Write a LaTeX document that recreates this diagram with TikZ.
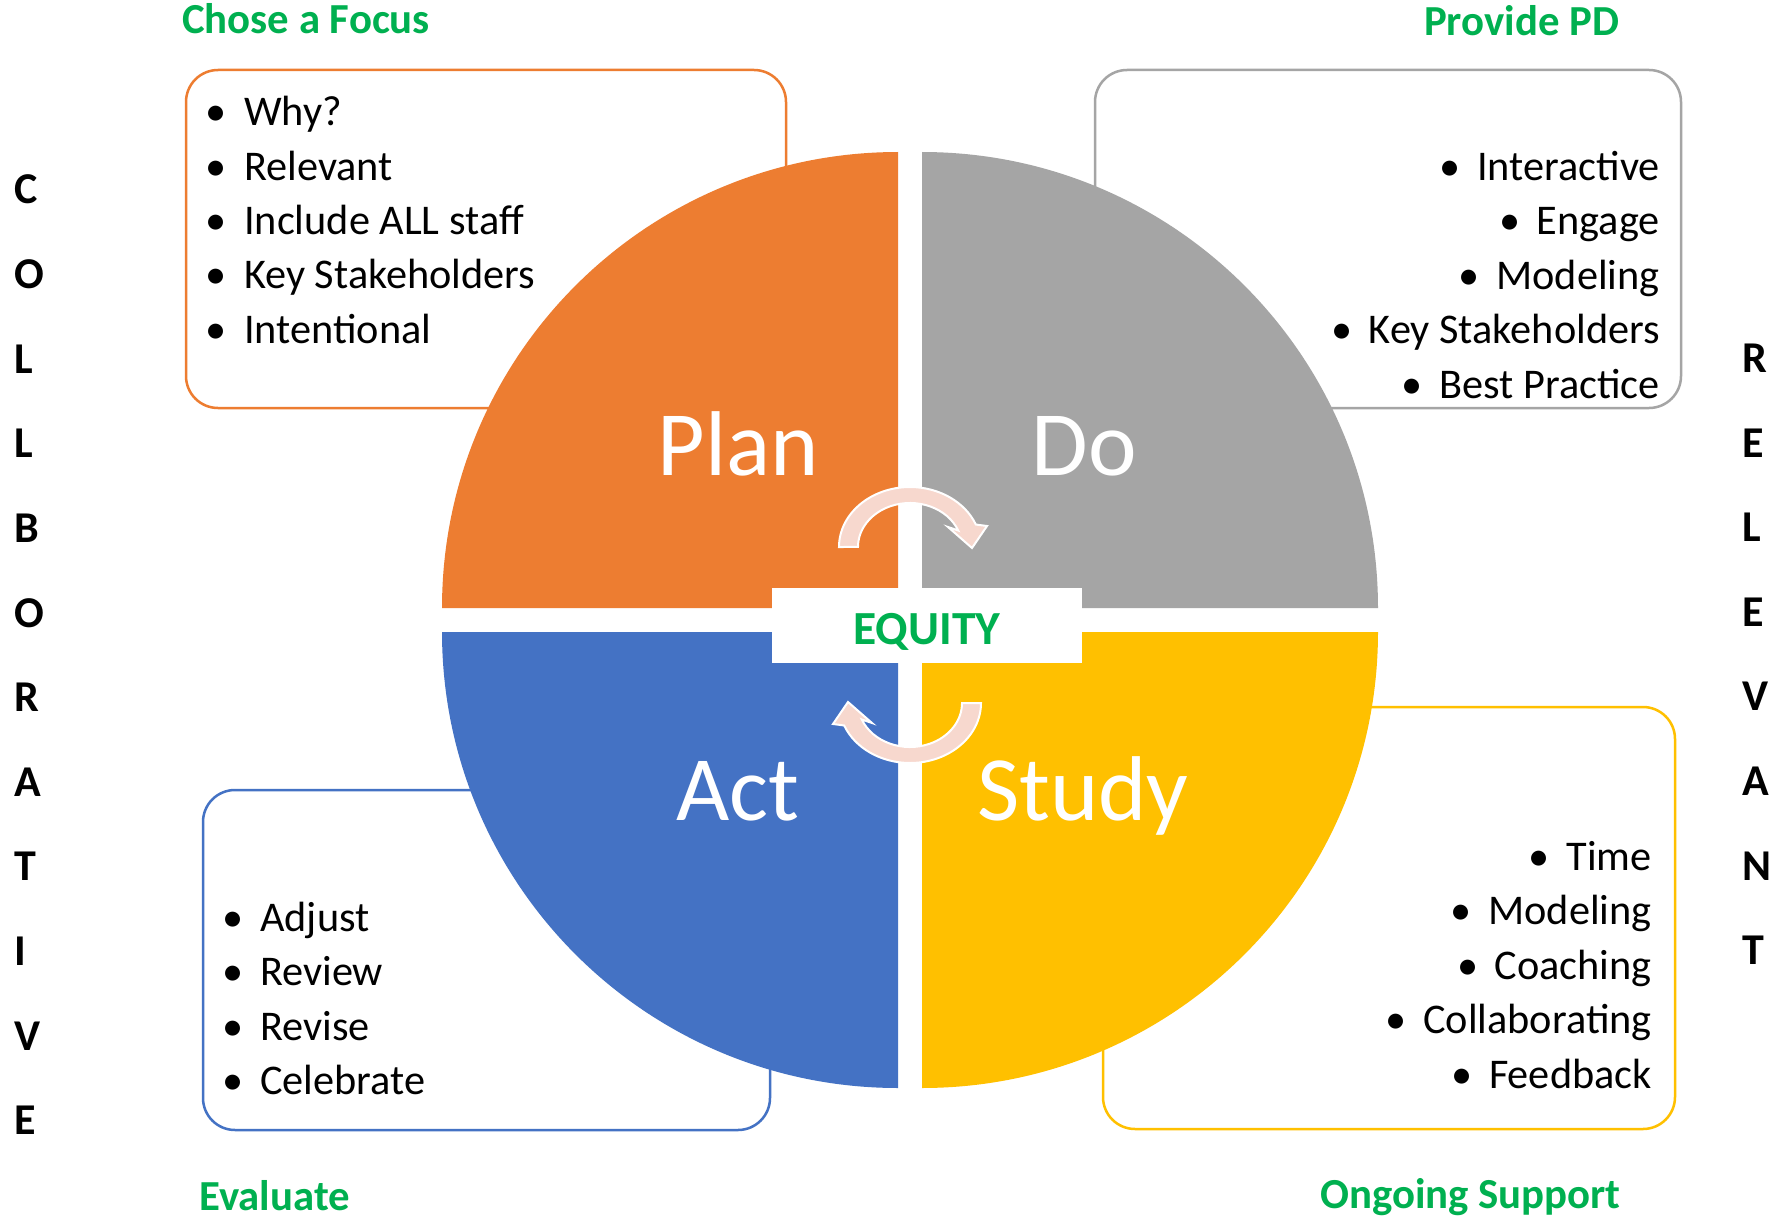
\documentclass[tikz,border=0pt]{standalone}
\usepackage{fontspec}
\setmainfont{Carlito}
\definecolor{cOrange}{HTML}{ED7D31}
\definecolor{cGray}{HTML}{A5A5A5}
\definecolor{cBlue}{HTML}{4472C4}
\definecolor{cGold}{HTML}{FFC000}
\definecolor{cGreen}{HTML}{00B050}
\definecolor{cPink}{HTML}{F7D8CE}
\begin{document}
\begin{tikzpicture}[x=1pt,y=1pt,
  box/.style={line width=2.5pt, rounded corners=32pt},
  item/.style={inner sep=0pt, font=\fontsize{42.3}{50}\selectfont, text=black},
  bul/.style={inner sep=0pt, font=\fontsize{42.3}{50}\selectfont, anchor=base},
  heading/.style={inner sep=0pt, font=\fontsize{42.8}{50}\selectfont\bfseries, text=cGreen, anchor=base west},
  vletter/.style={inner sep=0pt, font=\fontsize{44}{52}\selectfont\bfseries, anchor=base west},
  qlabel/.style={inner sep=0pt, font=\fontsize{92}{110}\selectfont, text=white, anchor=base},
  cyclearrow/.pic={
    \filldraw[fill=cPink, draw=white, line width=2pt, line join=miter]
      (-71,0) arc[start angle=180, end angle=22, x radius=71, y radius=60]
      -- (77,21) -- (62,-1) -- (38,20) -- (48.2,16.5)
      arc[start angle=22, end angle=180, x radius=52, y radius=44] -- cycle;
  }
]
\fill[white] (0,0) rectangle (1786,-1220);
\useasboundingbox (0,0) rectangle (1786,-1220);

% outline boxes
\draw[box, draw=cOrange] (186,-70) rectangle (786,-408);
\draw[box, draw=cGray] (1095,-70) rectangle (1681,-408);
\draw[box, draw=cBlue] (203,-790) rectangle (770,-1130);
\draw[box, draw=cGold] (1103,-707) rectangle (1675,-1129);

% quadrants
\fill[cOrange] (898,-608) -- (442,-608) arc[start angle=180, end angle=90, radius=456] -- cycle;
\fill[cGray] (922,-608) -- (922,-152) arc[start angle=90, end angle=0, radius=456] -- cycle;
\fill[cBlue] (898,-632) -- (442,-632) arc[start angle=180, end angle=270, radius=456] -- cycle;
\fill[cGold] (922,-632) -- (1378,-632) arc[start angle=0, end angle=-90, radius=456] -- cycle;

% quadrant labels
\node[qlabel] (plan) at (738,-475) {Plan};
\node[qlabel] (do) at (1084,-475) {Do};
\node[qlabel] (act) at (738,-820) {Act};
\node[qlabel] (study) at (1083,-820) {Study};

% cycle arrows
\pic at (910,-547) {cyclearrow};
\pic[rotate=180] at (910,-703) {cyclearrow};

% equity
\fill[white] (772,-588) rectangle (1082,-663);
\node[inner sep=0pt, font=\fontsize{47.5}{56}\selectfont\bfseries, text=cGreen, anchor=base] (equity) at (927,-644) {EQUITY};

% headings
\node[heading] (hfocus) at (182,-34) {Chose a Focus};
\node[heading] (hpd) at (1424,-36) {Provide PD};
\node[heading] (heval) at (199,-1210) {Evaluate};
\node[heading] (hsupport) at (1320,-1208) {Ongoing Support};

% lists
\foreach \t [count=\i] in {Why?, Relevant, Include ALL staff, Key Stakeholders, Intentional} {
  \node[item, anchor=base west] (o\i) at (244,{-126-54.3*(\i-1)}) {\t};
  \node[bul] (ob\i) at ([xshift=-28pt]o\i.base west) {•};
}
\foreach \t [count=\i] in {Interactive, Engage, Modeling, Key Stakeholders, Best Practice} {
  \node[item, anchor=base east] (g\i) at (1660,{-180-54.5*(\i-1)}) {\t};
  \node[bul] (gb\i) at ([xshift=-27pt]g\i.base west) {•};
}
\foreach \t [count=\i] in {Adjust, Review, Revise, Celebrate} {
  \node[item, anchor=base west] (b\i) at (260,{-931-54.6*(\i-1)}) {\t};
  \node[bul] (bb\i) at ([xshift=-27pt]b\i.base west) {•};
}
\foreach \t [count=\i] in {Time, Modeling, Coaching, Collaborating, Feedback} {
  \node[item, anchor=base east] (y\i) at (1652,{-870-54.5*(\i-1)}) {\t};
  \node[bul] (yb\i) at ([xshift=-27pt]y\i.base west) {•};
}

% vertical words
\foreach \l [count=\i] in {C,O,L,L,B,O,R,A,T,I,V,E} {
  \node[vletter] (cl\i) at (14,{-204-84.6*(\i-1)}) {\l};
}
\foreach \l [count=\i] in {R,E,L,E,V,A,N,T} {
  \node[vletter] (rl\i) at (1742,{-372.5-84.6*(\i-1)}) {\l};
}
\end{tikzpicture}
\end{document}
